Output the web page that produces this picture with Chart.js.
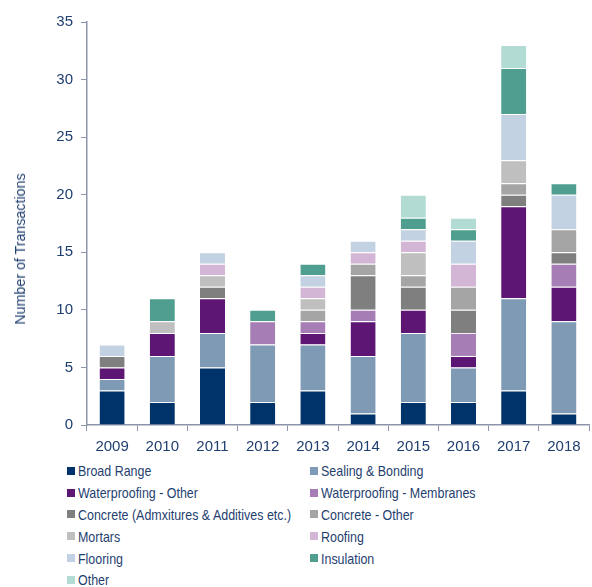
<!DOCTYPE html>
<html>
<head>
<meta charset="utf-8">
<script src="https://cdn.jsdelivr.net/npm/chart.js@4/dist/chart.umd.min.js"></script>
<style>
  body { margin:0; background:#fff; font-family:"Liberation Sans",Arial,sans-serif; }
  #wrap { width:592px; height:587px; position:relative; }
  #box { width:592px; height:455px; }
  #ytitle { position:absolute; left:20px; top:249px; transform:translate(-50%,-50%) rotate(-90deg);
            white-space:nowrap; font-size:14.25px; color:#1f3f6f; }
  #legend { position:absolute; left:67px; top:460px; width:520px; display:grid; grid-template-columns:243px 250px; }
  .item { height:21.8px; display:flex; align-items:center; font-size:15px; color:#1f3f6f; white-space:nowrap; }
  .sw { width:8px; height:8px; margin-right:3px; flex:none; }
  .lbl { display:inline-block; transform:scaleX(0.83); transform-origin:left center; }
</style>
</head>
<body>
<div id="wrap">
  <div id="box"><canvas id="chart"></canvas></div>
  <div id="ytitle">Number of Transactions</div>
  <div id="legend"></div>
</div>
<script>
const years = ['2009','2010','2011','2012','2013','2014','2015','2016','2017','2018'];
const broadRange     = [3,2,5,2,3,1,2,2,3,1];
const sealing        = [1,4,3,5,4,5,6,3,8,8];
const wpOther        = [1,2,3,0,1,3,2,1,8,3];
const wpMembranes    = [0,0,0,2,1,1,0,2,0,2];
const concreteAdm    = [1,0,1,0,0,3,2,2,1,1];
const concreteOther  = [0,0,0,0,1,1,1,2,1,2];
const mortars        = [0,1,1,0,1,0,2,0,2,0];
const roofing        = [0,0,1,0,1,1,1,2,0,0];
const flooring       = [1,0,1,0,1,1,1,2,4,3];
const insulation     = [0,2,0,1,1,0,1,1,4,1];
const other          = [0,0,0,0,0,0,2,1,2,0];

const series = [
  ['Broad Range', broadRange, '#00336a'],
  ['Sealing & Bonding', sealing, '#7f9ab5'],
  ['Waterproofing - Other', wpOther, '#5e1675'],
  ['Waterproofing - Membranes', wpMembranes, '#a77db5'],
  ['Concrete (Admxitures & Additives etc.)', concreteAdm, '#7f7f7f'],
  ['Concrete - Other', concreteOther, '#a5a5a5'],
  ['Mortars', mortars, '#bfbfbf'],
  ['Roofing', roofing, '#d3b6d6'],
  ['Flooring', flooring, '#c3d2e3'],
  ['Insulation', insulation, '#4f9e8f'],
  ['Other', other, '#b2dbd3']
];

const axisCol = '#8c95aa';
const txtCol = '#1f3f6f';
const font = { family:'"Liberation Sans",Arial,sans-serif', size:15 };

new Chart(document.getElementById('chart'), {
  type:'bar',
  data:{
    labels: years,
    datasets: series.map(s=>({
      label:s[0], data:s[1], backgroundColor:s[2],
      borderColor:'#ffffff', borderWidth:{top:1,left:0,right:0,bottom:0}, borderSkipped:false,
      barPercentage:0.5, categoryPercentage:1
    }))
  },
  options:{
    responsive:true, maintainAspectRatio:false, animation:false,
    layout:{ padding:{ top:22, right:3, left:0, bottom:0 } },
    plugins:{ legend:{ display:false }, tooltip:{ enabled:false } },
    scales:{
      x:{
        stacked:true,
        border:{ color:axisCol, width:1.5 },
        grid:{ drawOnChartArea:false, color:axisCol, tickLength:6, offset:true },
        ticks:{ color:txtCol, font:font, padding:7 },
        afterFit: s => { s.height = 30; }
      },
      y:{
        stacked:true, min:0, max:35,
        border:{ color:axisCol, width:1.5 },
        grid:{ drawOnChartArea:false, color:axisCol, tickLength:6 },
        ticks:{ stepSize:5, color:txtCol, font:font, padding:8 },
        afterFit: s => { s.width = 87; }
      }
    }
  }
});

const leg = document.getElementById('legend');
series.forEach(s=>{
  const d = document.createElement('div');
  d.className = 'item';
  d.innerHTML = '<span class="sw" style="background:'+s[2]+'"></span>';
  const t = document.createElement('span');
  t.className = 'lbl';
  t.textContent = s[0];
  d.appendChild(t);
  leg.appendChild(d);
});
</script>
</body>
</html>
